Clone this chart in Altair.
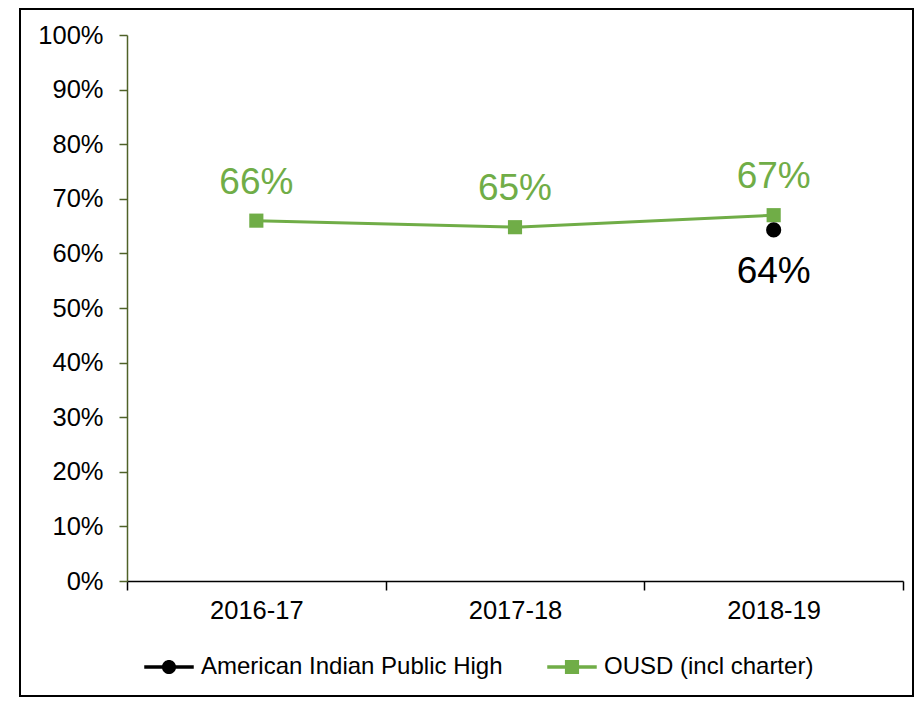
import altair as alt
import pandas as pd

years = ["2016-17", "2017-18", "2018-19"]
ousd = [66.0, 64.8, 67.0]
ousd_labels = ["66%", "65%", "67%"]
aiph_years = ["2018-19"]
aiph = [64.3]
aiph_labels = ["64%"]
series = ["American Indian Public High", "OUSD (incl charter)"]
colors = ["#000000", "#70AD47"]

FONT = "Liberation Sans"

df_ousd = pd.DataFrame({"year": years, "value": ousd, "label": ousd_labels,
                        "series": series[1]})
df_aiph = pd.DataFrame({"year": aiph_years, "value": aiph, "label": aiph_labels,
                        "series": series[0]})
df_all = pd.concat([df_aiph, df_ousd])

circle_path = ("M-3.5,-0.23L-0.97,-0.23A1,1 0 0,1 0.97,-0.23L3.5,-0.23L3.5,0.23"
               "L0.97,0.23A1,1 0 0,1 -0.97,0.23L-3.5,0.23Z")
square_path = ("M-3.5,-0.23L-1,-0.23L-1,-1L1,-1L1,-0.23L3.5,-0.23L3.5,0.23L1,0.23"
               "L1,1L-1,1L-1,0.23L-3.5,0.23Z")

x_enc = alt.X("year:N", sort=years, title=None,
              scale=alt.Scale(domain=years, paddingInner=0, paddingOuter=0),
              axis=alt.Axis(labelAngle=0, tickBand="extent", domainColor="#000000",
                            tickColor="#000000", tickSize=9, domainWidth=1.5,
                            tickWidth=1.5, labelPadding=8, labelFontSize=25.5,
                            labelFont=FONT, labelColor="#000000", grid=False))
y_enc = alt.Y("value:Q", title=None,
              scale=alt.Scale(domain=[0, 100], nice=False),
              axis=alt.Axis(values=list(range(0, 101, 10)),
                            labelExpr="datum.value + '%'",
                            domainColor="#4F6228", tickColor="#4F6228",
                            domainWidth=1.5, tickWidth=1.5, tickSize=8,
                            labelPadding=16, labelFontSize=25.5, labelFont=FONT,
                            labelColor="#000000", grid=False))

line = alt.Chart(df_ousd).mark_line(
    color=colors[1], strokeWidth=3,
    point=alt.OverlayMarkDef(shape="square", filled=True, size=200, color=colors[1], opacity=1)
).encode(x=x_enc, y=y_enc)

ousd_text = alt.Chart(df_ousd).mark_text(
    dy=-38, fontSize=37, font=FONT, color=colors[1]
).encode(x=alt.X("year:N", sort=years), y="value:Q", text="label:N")

aiph_pt = alt.Chart(df_aiph).mark_point(
    shape="circle", filled=True, size=230, color=colors[0], opacity=1
).encode(x=alt.X("year:N", sort=years), y="value:Q")

aiph_text = alt.Chart(df_aiph).mark_text(
    dy=42, fontSize=37, font=FONT, color=colors[0]
).encode(x=alt.X("year:N", sort=years), y="value:Q", text="label:N")

leg = alt.Legend(title=None, orient="none", direction="horizontal",
                 legendX=30, legendY=620, labelFontSize=24, labelLimit=0,
                 labelFont=FONT, labelColor="#000000",
                 symbolSize=200, labelOffset=20,
                 columnPadding=44, symbolStrokeWidth=0,
                 symbolOpacity=1)

legend_layer = alt.Chart(df_all).transform_filter("false").mark_point(
    filled=True, size=200, opacity=1
).encode(
    x=alt.X("year:N", sort=years),
    y="value:Q",
    color=alt.Color("series:N", scale=alt.Scale(domain=series, range=colors), legend=leg),
    shape=alt.Shape("series:N", scale=alt.Scale(domain=series,
                                                range=[circle_path, square_path]),
                    legend=leg),
)

frame = alt.Chart(pd.DataFrame({"k": [0]})).mark_rect(
    fillOpacity=0, stroke="#000000", strokeWidth=2
).encode(x=alt.value(-107), x2=alt.value(786), y=alt.value(-26), y2=alt.value(661))

chart = alt.layer(frame, line, ousd_text, aiph_pt, aiph_text, legend_layer).properties(
    width=776, height=546,
    background="white",
    autosize=alt.AutoSizeParams(type="none"),
    padding={"left": 119, "top": 27, "right": 13, "bottom": 116},
).configure_view(stroke="transparent", strokeWidth=0)

chart.save("out.html", embed_options={"renderer": "svg", "actions": False})
